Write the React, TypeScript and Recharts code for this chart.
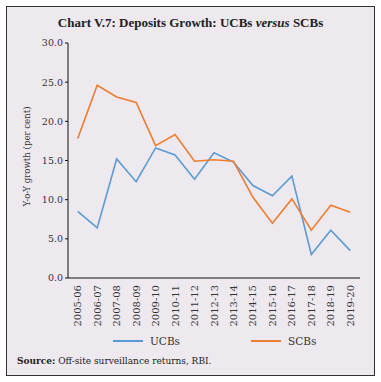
import React from 'react';
import { LineChart, Line, XAxis, YAxis } from 'recharts';

const categories = ['2005-06','2006-07','2007-08','2008-09','2009-10','2010-11','2011-12','2012-13','2013-14','2014-15','2015-16','2016-17','2017-18','2018-19','2019-20'];
const ucbs = [8.5, 6.4, 15.2, 12.3, 16.6, 15.7, 12.6, 16.0, 14.8, 11.8, 10.5, 13.0, 3.0, 6.1, 3.5];
const scbs = [17.8, 24.6, 23.1, 22.4, 16.9, 18.3, 14.9, 15.1, 14.9, 10.3, 7.0, 10.1, 6.1, 9.3, 8.4];
const yTicks = [0, 5, 10, 15, 20, 25, 30];
const seriesNames = ['UCBs', 'SCBs'];
const seriesColors = ['#5B9BD5', '#ED7D31'];

const data = categories.map((c, i) => ({ cat: c, idx: i, UCBs: ucbs[i], SCBs: scbs[i] }));
const centers = categories.map((_, i) => i);
const boundaries = categories.map((_, i) => i - 0.5).concat([categories.length - 0.5]);
const xDomain = [-0.5, categories.length - 0.5];

const SERIF = '"DejaVu Serif", serif';

const RotTick = (props: any) => {
  const { x, y, payload } = props;
  const yy = y - 2;
  return (
    <text x={x} y={yy} transform={`rotate(-90 ${x} ${yy})`} textAnchor="end" dy="0.35em"
      fontFamily={SERIF} fontSize={10} fill="#333">{categories[payload.value]}</text>
  );
};

const YLabel = (props: any) => {
  const vb = props.viewBox || { x: 0, y: 43, width: 68, height: 235 };
  const cx = vb.x + 27;
  const cy = vb.y + vb.height / 2 + 46;
  return (
    <text x={cx} y={cy} transform={`rotate(-90 ${cx} ${cy})`} textAnchor="start" dy="0.35em"
      fontFamily={SERIF} fontSize={8.6} fill="#333">Y-o-Y growth (per cent)</text>
  );
};

export default function App() {
  return (
    <div style={{ position: 'absolute', left: 0, top: 0, width: 381, height: 382, background: '#ffffff' }}>
      <div style={{ position: 'absolute', left: 6, top: 6, width: 369, height: 370, boxSizing: 'border-box', border: '1.5px solid #333', background: '#EDE9EF' }} />
      <div style={{ position: 'absolute', left: 0, top: 15, width: 381, textAlign: 'center', fontFamily: '"Liberation Serif", serif', fontWeight: 'bold', fontSize: 13, color: '#222' }}>
        Chart V.7: Deposits Growth: UCBs <i>versus</i> SCBs
      </div>
      <div style={{ position: 'absolute', left: 0, top: 0 }}>
        <LineChart width={381} height={382} data={data} margin={{ top: 43, right: 21, left: 0, bottom: 54 }}>
          <XAxis xAxisId="grid" dataKey="idx" type="number" domain={xDomain} ticks={boundaries} interval={0} tick={false} tickSize={4} height={1} stroke="#111" allowDataOverflow />
          <XAxis xAxisId="lab" dataKey="idx" type="number" domain={xDomain} ticks={centers} interval={0} tickLine={false} axisLine={false} height={49} tick={<RotTick />} allowDataOverflow />
          <YAxis domain={[0, 30]} ticks={yTicks} interval={0} tickFormatter={(v: number) => v.toFixed(1)} width={68} tickSize={3} tickMargin={2} stroke="#111"
            tick={{ fontFamily: SERIF, fontSize: 9.5, fill: '#333' }} label={<YLabel />} />
          {seriesNames.map((s, i) => (
            <Line key={s} xAxisId="lab" type="linear" dataKey={s} stroke={seriesColors[i]} strokeWidth={1.6} dot={false} isAnimationActive={false} />
          ))}
        </LineChart>
      </div>
      <div style={{ position: 'absolute', left: 0, top: 333, width: 381, height: 16, fontFamily: SERIF, fontSize: 10.5, color: '#333' }}>
        {seriesNames.map((s, i) => (
          <div key={s} style={{ position: 'absolute', left: i === 0 ? 113 : 251, top: 0, display: 'flex', alignItems: 'center', height: 16 }}>
            <span style={{ display: 'inline-block', width: 30, height: 2, background: seriesColors[i], marginRight: 7 }} />
            <span>{s}</span>
          </div>
        ))}
      </div>
      <div style={{ position: 'absolute', left: 17, top: 356, fontFamily: SERIF, fontSize: 9, color: '#222' }}>
        <b>Source:</b> Off-site surveillance returns, RBI.
      </div>
    </div>
  );
}
